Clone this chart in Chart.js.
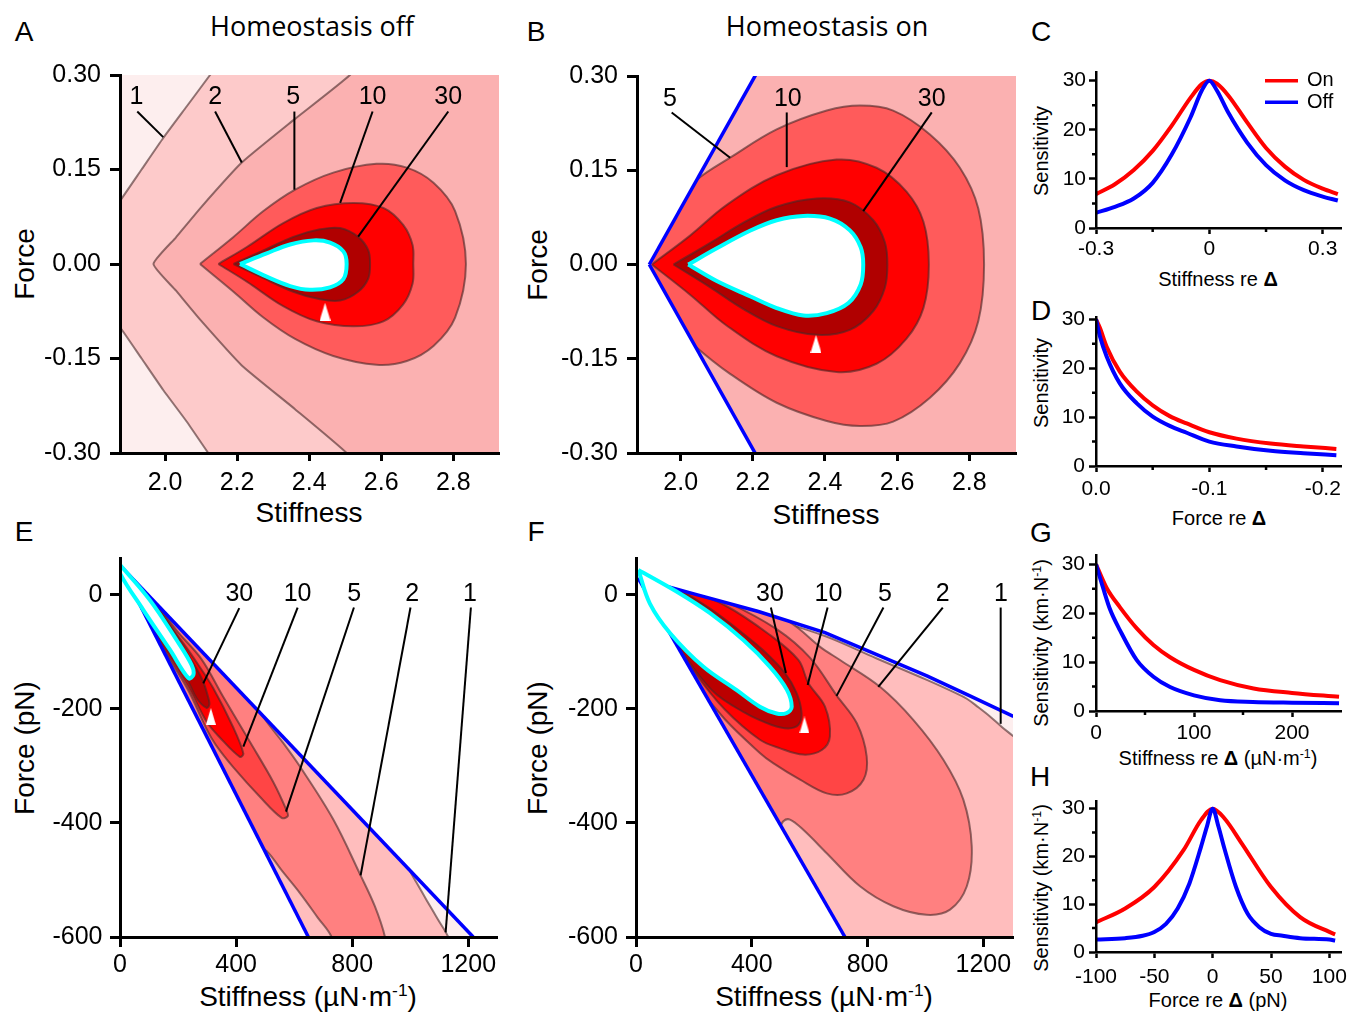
<!DOCTYPE html>
<html>
<head>
<meta charset="utf-8">
<title>Sensitivity maps</title>
<script src="https://cdn.jsdelivr.net/npm/chart.js@4.4.1/dist/chart.umd.min.js"></script>
<style>
  html, body { margin: 0; padding: 0; background: #fff; }
  body { position: relative; width: 1350px; height: 1013px; overflow: hidden; font-family: "Liberation Sans", Arial, sans-serif; color: #000; }
  canvas { position: absolute; }
  .t { position: absolute; transform: translate(-50%, -50%); white-space: nowrap; line-height: 1; }
  .r { transform: translate(-50%, -50%) rotate(-90deg); }
  .letter { font-size: 28px; }
  .head { font-family: "Open Sans", sans-serif; font-size: 27px; }
  .big { font-size: 28px; }
  .small { font-size: 20px; }
  sup { font-size: 0.62em; vertical-align: 0.55em; line-height: 0; }
</style>
</head>
<body>
<div class="t letter" style="left:24px;top:32px">A</div>
<div class="t letter" style="left:536px;top:32px">B</div>
<div class="t letter" style="left:1041px;top:32px">C</div>
<div class="t letter" style="left:1041px;top:311px">D</div>
<div class="t letter" style="left:24px;top:532px">E</div>
<div class="t letter" style="left:536px;top:532px">F</div>
<div class="t letter" style="left:1041px;top:533px">G</div>
<div class="t letter" style="left:1040px;top:777px">H</div>

<div class="t head" style="left:312px;top:25px">Homeostasis off</div>
<div class="t head" style="left:827px;top:25px">Homeostasis on</div>

<div class="t r big" style="left:25px;top:264px">Force</div>
<div class="t big" style="left:309px;top:513px">Stiffness</div>
<div class="t r big" style="left:538px;top:265px">Force</div>
<div class="t big" style="left:826px;top:515px">Stiffness</div>
<div class="t r big" style="left:25px;top:748px">Force (pN)</div>
<div class="t big" style="left:308px;top:997px">Stiffness (µN·m<sup>-1</sup>)</div>
<div class="t r big" style="left:538px;top:748px">Force (pN)</div>
<div class="t big" style="left:824px;top:997px">Stiffness (µN·m<sup>-1</sup>)</div>

<div class="t r small" style="left:1041px;top:151px">Sensitivity</div>
<div class="t small" style="left:1218px;top:279px">Stiffness re <b>Δ</b></div>
<div class="t r small" style="left:1041px;top:383px">Sensitivity</div>
<div class="t small" style="left:1219px;top:518px">Force re <b>Δ</b></div>
<div class="t r small" style="left:1041px;top:643px">Sensitivity (km·N<sup>-1</sup>)</div>
<div class="t small" style="left:1218px;top:758px">Stiffness re <b>Δ</b> (µN·m<sup>-1</sup>)</div>
<div class="t r small" style="left:1041px;top:888px">Sensitivity (km·N<sup>-1</sup>)</div>
<div class="t small" style="left:1218px;top:1000px">Force re <b>Δ</b> (pN)</div>

<canvas id="chartA"></canvas>
<canvas id="chartB"></canvas>
<canvas id="chartC"></canvas>
<canvas id="chartD"></canvas>
<canvas id="chartE"></canvas>
<canvas id="chartF"></canvas>
<canvas id="chartG"></canvas>
<canvas id="chartH"></canvas>

<script>
const FONT = '"Liberation Sans", Arial, sans-serif';
const EDGE = 'rgba(70, 40, 40, 0.6)';
const RED = '#ff0000';
const BLUE = '#0000ff';
const CYAN = '#00ffff';

// ---------- A / B : normalised stiffness and force ----------
const abStiffTicks = [2.0, 2.2, 2.4, 2.6, 2.8];
const abStiffLabels = ['2.0', '2.2', '2.4', '2.6', '2.8'];
const abForceTicks = [0.3, 0.15, 0, -0.15, -0.3];
const abForceLabels = ['0.30', '0.15', '0.00', '-0.15', '-0.30'];

// A: sensitivity contours, homeostasis off
const aLevel1 = [[2.19, 0.35], [2.125, 0.30], [2.06, 0.25], [1.995, 0.20], [1.935, 0.15], [1.875, 0.10], [1.81, 0.05], [1.77, 0],
  [1.81, -0.05], [1.875, -0.10], [1.935, -0.15], [1.995, -0.20], [2.06, -0.25], [2.12, -0.30], [2.185, -0.35], [3.1, -0.35], [3.1, 0.35]];
const aLevel2 = [[2.58, 0.35], [2.513, 0.30], [2.36, 0.23], [2.213, 0.161], [2.10, 0.09], [2.03, 0.042], [1.968, 0],
  [2.03, -0.042], [2.10, -0.09], [2.213, -0.161], [2.36, -0.23], [2.504, -0.30], [2.57, -0.35], [3.1, -0.35], [3.1, 0.35]];
const aLevel5 = [[2.097, 0], [2.19, 0.043], [2.273, 0.084], [2.361, 0.118], [2.467, 0.145], [2.587, 0.159], [2.671, 0.153],
  [2.745, 0.129], [2.805, 0.084], [2.835, 0], [2.805, -0.085], [2.745, -0.130], [2.671, -0.154], [2.587, -0.160],
  [2.467, -0.146], [2.361, -0.119], [2.273, -0.085], [2.19, -0.044], [2.097, 0]];
const aLevel10 = [[2.148, 0], [2.227, 0.027], [2.328, 0.065], [2.421, 0.089], [2.523, 0.097], [2.606, 0.089], [2.661, 0.062],
  [2.687, 0.030], [2.689, 0], [2.687, -0.031], [2.661, -0.064], [2.606, -0.091], [2.523, -0.099], [2.421, -0.091],
  [2.328, -0.067], [2.227, -0.028], [2.148, 0]];
const aLevel30 = [[2.190, 0], [2.264, 0.019], [2.356, 0.043], [2.430, 0.055], [2.486, 0.057], [2.536, 0.043], [2.564, 0.022],
  [2.569, 0], [2.564, -0.023], [2.536, -0.044], [2.486, -0.058], [2.430, -0.056], [2.356, -0.044], [2.264, -0.020], [2.190, 0]];
const aPeak = [[2.208, 0], [2.282, 0.017], [2.347, 0.031], [2.412, 0.0375], [2.458, 0.034], [2.495, 0.020], [2.504, 0],
  [2.495, -0.024], [2.458, -0.037], [2.402, -0.041], [2.347, -0.035], [2.282, -0.020], [2.208, 0]];
const aMark = [2.444, -0.0758];
const aLevelNames = ['1', '2', '5', '10', '30'];
const aNameAt = [[1.921, 0.265], [2.139, 0.265], [2.356, 0.265], [2.576, 0.265], [2.786, 0.265]];
const aLeaderTop = [[1.923, 0.242], [2.139, 0.242], [2.359, 0.242], [2.576, 0.242], [2.786, 0.242]];
const aLeaderEnd = [[1.995, 0.2014], [2.213, 0.161], [2.359, 0.118], [2.486, 0.097], [2.536, 0.0434]];

// B: sensitivity contours, homeostasis on
const bBlueUpper = [[1.913, 0], [2.255, 0.35]];
const bBlueLower = [[1.913, 0], [2.255, -0.35]];
const bLevel5 = [[1.85, 0], [1.95, 0.08], [2.045, 0.135], [2.137, 0.170], [2.266, 0.215], [2.405, 0.245], [2.497, 0.253],
  [2.589, 0.245], [2.691, 0.207], [2.774, 0.154], [2.825, 0.089], [2.841, 0], [2.825, -0.090], [2.774, -0.157],
  [2.691, -0.212], [2.589, -0.250], [2.497, -0.257], [2.405, -0.249], [2.266, -0.220], [2.137, -0.174], [2.040, -0.130],
  [1.95, -0.08], [1.85, 0]];
const bLevel10 = [[1.920, 0], [2.026, 0.046], [2.127, 0.0945], [2.266, 0.142], [2.432, 0.167], [2.543, 0.154], [2.626, 0.116],
  [2.673, 0.068], [2.688, 0], [2.673, -0.069], [2.626, -0.118], [2.543, -0.158], [2.432, -0.171], [2.266, -0.146],
  [2.127, -0.097], [2.026, -0.048], [1.920, 0]];
const bLevel30 = [[1.980, 0], [2.081, 0.034], [2.174, 0.0666], [2.266, 0.0919], [2.377, 0.105], [2.469, 0.0988], [2.534, 0.0704],
  [2.566, 0.0355], [2.573, 0], [2.566, -0.037], [2.534, -0.074], [2.469, -0.104], [2.377, -0.112], [2.266, -0.098],
  [2.174, -0.071], [2.081, -0.036], [1.980, 0]];
const bPeak = [[2.021, 0], [2.100, 0.0258], [2.192, 0.0537], [2.266, 0.0704], [2.340, 0.0773], [2.414, 0.0730], [2.469, 0.0543],
  [2.499, 0.0274], [2.506, 0], [2.499, -0.0317], [2.465, -0.0612], [2.405, -0.0773], [2.340, -0.0811], [2.266, -0.0693],
  [2.192, -0.0505], [2.100, -0.0263], [2.021, 0]];
const bMark = [2.375, -0.1265];
const bLevelNames = ['5', '10', '30'];
const bNameAt = [[1.970, 0.264], [2.297, 0.264], [2.696, 0.264]];
const bLeaderTop = [[1.975, 0.242], [2.294, 0.242], [2.696, 0.242]];
const bLeaderEnd = [[2.137, 0.170], [2.294, 0.155], [2.506, 0.085]];

// ---------- E / F : stiffness (µN/m) and force (pN) ----------
const efStiffTicks = [0, 400, 800, 1200];
const efStiffLabels = ['0', '400', '800', '1200'];
const efForceTicks = [0, -200, -400, -600];
const efForceLabels = ['0', '-200', '-400', '-600'];

// E: homeostasis off
const eBlueUpper = [[0, 52], [1217, -600]];
const eBlueLower = [[0, 52], [649, -600]];
const eLevel1 = [[990, -470], [999, -484], [1028, -510], [1056, -535], [1094, -568], [1131, -600], [1140, -620], [1300, -620]];
const eLevel2 = [[0, 70], [250, -70], [450, -180], [505, -222], [560, -258], [620, -301], [735, -394], [829, -492], [878, -546],
  [913, -600], [922, -640], [740, -640], [729, -600], [680, -565], [620, -523], [560, -485], [505, -449], [470, -440],
  [300, -330], [100, -100], [-30, 30]];
const eLevel5 = [[0, 62], [103, 2], [195, -62], [280, -112], [355, -178], [448, -258], [528, -328], [574, -378], [578, -388],
  [557, -391], [482, -354], [390, -302], [330, -263], [299, -236], [236, -168], [172, -114], [80, -40], [0, 42]];
const eLevel10 = [[0, 60], [103, -1], [195, -68], [260, -115], [321, -163], [390, -232], [425, -278], [413, -284], [344, -250],
  [298, -222], [236, -161], [172, -109], [80, -37], [0, 44]];
const eLevel30 = [[0, 58], [103, -4], [195, -72], [247, -115], [285, -150], [303, -178], [308, -192], [298, -198], [265, -182],
  [236, -153], [172, -103], [80, -33], [0, 46]];
const ePeak = [[0, 53], [103, -9], [195, -79], [247, -123], [253, -140], [236, -146], [172, -96], [80, -26], [0, 38], [0, 53]];
const eMark = [313, -213];
const eLevelNames = ['30', '10', '5', '2', '1'];
const eNameAt = [[411, 2], [612, 2], [807, 2], [1007, 2], [1206, 2]];
const eLeaderTop = [[411, -23], [612, -22], [806, -22], [1001, -22], [1209, -22]];
const eLeaderEnd = [[287, -155], [425, -266], [572, -380], [829, -492], [1122, -592]];

// F: homeostasis on
const fBlueUpper = [[8, 29], [200, 2], [423, -29], [653, -66], [830, -104], [1005, -142], [1150, -176], [1304, -213], [1350, -224]];
const fBlueLower = [[8, 29], [722, -600]];
const fLevel1 = [[200, 8], [400, -30], [653, -72], [830, -111], [1005, -149], [1100, -171], [1143, -182], [1183, -197],
  [1223, -213], [1263, -231], [1304, -248], [1350, -268], [1350, -150]];
const fLevel2 = [[0, 80], [300, 25], [480, -30], [560, -58], [636, -91], [705, -114], [843, -161], [958, -219], [1062, -289],
  [1131, -359], [1160, -441], [1143, -511], [1085, -552], [1004, -561], [889, -546], [774, -511], [659, -453], [578, -412],
  [532, -394], [509, -397], [480, -420], [300, -320], [-50, 0]];
const fLevel5 = [[8, 50], [140, 22], [313, -12], [486, -60], [601, -110], [693, -176], [763, -225], [797, -283], [786, -324],
  [728, -348], [659, -348], [567, -324], [474, -295], [428, -277], [307, -218], [200, -150], [100, -68], [8, 30]];
const fLevel10 = [[8, 47], [135, 19], [307, -18], [457, -68], [561, -114], [596, -155], [653, -196], [670, -248], [642, -272],
  [578, -280], [498, -269], [428, -254], [307, -201], [200, -134], [100, -57], [8, 36]];
const fLevel30 = [[8, 46], [135, 14], [256, -24], [371, -68], [446, -100], [515, -137], [555, -172], [572, -207], [561, -228],
  [526, -234], [469, -228], [377, -207], [262, -167], [146, -90], [60, -22], [8, 38]];
const fPeak = [[8, 44], [140, 6], [256, -32], [371, -79], [463, -126], [521, -166], [538, -196], [521, -207], [486, -208],
  [428, -196], [348, -167], [233, -126], [118, -67], [48, -15], [8, 44]];
const fMark = [582, -228];
const fLevelNames = ['30', '10', '5', '2', '1'];
const fNameAt = [[463, 2], [665, 2], [860, 2], [1060, 2], [1261, 2]];
const fLeaderTop = [[466, -22], [662, -22], [855, -22], [1060, -22], [1260, -22]];
const fLeaderEnd = [[518, -137], [593, -158], [693, -177], [837, -161], [1260, -226]];

// ---------- C / D / G / H : cuts through the peak ----------
const sensTicks = [0, 10, 20, 30];
const sensLabels = ['0', '10', '20', '30'];
const sensMinor = [5, 15, 25];

const cStiff = [-0.3, -0.25, -0.2, -0.15, -0.1, -0.05, -0.02, 0, 0.02, 0.05, 0.1, 0.15, 0.2, 0.25, 0.3, 0.34];
const cOn = [6.9, 8.9, 11.8, 15.7, 20.8, 26.5, 29.3, 30, 29.4, 27.0, 21.5, 16.3, 12.5, 9.8, 8.0, 6.9];
const cOff = [3.1, 4.3, 6.0, 9.2, 14.9, 22.5, 28.0, 30, 28.0, 23.5, 17.4, 12.8, 9.7, 7.7, 6.4, 5.6];
const cTicks = [-0.3, 0, 0.3];
const cLabels = ['-0.3', '0', '0.3'];

const dForce = [0, -0.0035, -0.0094, -0.021, -0.036, -0.05, -0.065, -0.08, -0.1, -0.124, -0.154, -0.183, -0.212];
const dOn = [30, 28.2, 24.4, 19.3, 15.2, 12.4, 10.2, 8.7, 6.9, 5.6, 4.6, 4.0, 3.5];
const dOff = [30, 26.5, 22.4, 16.9, 12.8, 10.1, 8.2, 6.8, 5.0, 4.0, 3.1, 2.6, 2.2];
const dTicks = [0, -0.1, -0.2];
const dLabels = ['0.0', '-0.1', '-0.2'];

const gStiffOn = [0, 11, 24.5, 41.6, 58.6, 75.6, 100, 126.7, 160.8, 200, 248];
const gOn = [30, 25.1, 21.2, 16.9, 13.5, 11.0, 8.4, 6.3, 4.6, 3.7, 2.9];
const gStiffOff = [0, 7.5, 14.3, 24.5, 41.6, 58.6, 75.6, 100, 126.7, 160, 200, 248];
const gOff = [30, 25.0, 20.8, 16.5, 10.4, 7.0, 4.9, 3.2, 2.2, 1.85, 1.7, 1.6];
const gTicks = [0, 100, 200];
const gLabels = ['0', '100', '200'];

const hForceOn = [-100, -75, -50, -25, -10, 0, 10, 25, 50, 75, 100, 105];
const hOn = [6.2, 9.1, 13.6, 21.3, 27.6, 30, 28.0, 22.7, 13.6, 7.3, 4.2, 3.7];
const hForceOff = [-100, -75, -60, -50, -40, -30, -20, -10, -5, 0, 5, 10, 20, 30, 40, 50, 60, 75, 100, 105];
const hOff = [2.6, 2.9, 3.4, 4.2, 5.9, 9.1, 14.3, 22.0, 26.2, 30, 26.2, 21.7, 13.6, 8.0, 5.2, 3.8, 3.4, 2.9, 2.6, 2.4];
const hTicks = [-100, -50, 0, 50, 100];
const hLabels = ['-100', '-50', '0', '50', '100'];

Chart.defaults.font.family = FONT;
Chart.defaults.elements.line.capBezierPoints = false;

function xy(pairs) { return pairs.map(([x, y]) => ({x, y})); }
function zip(xs, ys) { return xs.map((x, i) => ({x, y: ys[i]})); }

// closed outline, filled with its own colour underneath the edge
function region(pairs, color, extra) {
  return Object.assign({data: xy(pairs), showLine: true, pointRadius: 0, borderColor: EDGE, borderWidth: 2,
    tension: 0.35, clip: 0, areaFill: color}, extra || {});
}
function blank(pairs) { return region(pairs, '#fff', {borderColor: 'rgba(0,0,0,0)', borderWidth: 1, tension: 0}); }
function peak(pairs) { return region(pairs, '#fff', {borderColor: CYAN, borderWidth: 4}); }
function boundary(pairs) {
  return {data: xy(pairs), showLine: true, pointRadius: 0, borderColor: BLUE, borderWidth: 3.5, tension: 0, clip: 0, borderCapStyle: 'butt'};
}
function curve(xs, ys, color, label) {
  return {label, data: zip(xs, ys), showLine: true, pointRadius: 0, borderColor: color, borderWidth: 4, cubicInterpolationMode: 'monotone'};
}
function triangle(w, h) {
  const c = document.createElement('canvas');
  c.width = w; c.height = h;
  const g = c.getContext('2d');
  g.fillStyle = '#fff';
  g.beginPath(); g.moveTo(w / 2, 0); g.lineTo(w, h); g.lineTo(0, h); g.closePath(); g.fill();
  return c;
}
function marker(p, w, h) {
  return {data: [{x: p[0], y: p[1]}], pointStyle: triangle(w, h), pointRadius: 5, showLine: false, clip: false};
}

// plot background + polygon fills
function paintArea(bg) {
  return {
    id: 'paintArea',
    beforeDraw(chart) {
      if (!bg) return;
      const {ctx, chartArea: a} = chart;
      ctx.save();
      ctx.fillStyle = bg;
      ctx.fillRect(a.left, a.top, a.width, a.height);
      ctx.restore();
    },
    beforeDatasetDraw(chart, args) {
      const line = args.meta.dataset;
      if (!line) return;
      const a = chart.chartArea;
      line.updateControlPoints(a, 'x');
      const ds = chart.data.datasets[args.index];
      if (!ds.areaFill) return;
      const ctx = chart.ctx;
      ctx.save();
      ctx.beginPath();
      ctx.rect(a.left, a.top, a.width, a.height);
      ctx.clip();
      ctx.beginPath();
      line.path(ctx);
      ctx.closePath();
      ctx.fillStyle = ds.areaFill;
      ctx.fill();
      ctx.restore();
    }
  };
}

// contour level numbers with leader lines
function leaders(names, at, top, end) {
  return {
    id: 'leaders',
    afterDatasetsDraw(chart) {
      const {ctx, scales: {x, y}} = chart;
      ctx.save();
      ctx.strokeStyle = '#000';
      ctx.lineWidth = 2;
      ctx.fillStyle = '#000';
      ctx.font = '25px ' + FONT;
      ctx.textAlign = 'center';
      ctx.textBaseline = 'middle';
      names.forEach((n, i) => {
        ctx.beginPath();
        ctx.moveTo(x.getPixelForValue(top[i][0]), y.getPixelForValue(top[i][1]));
        ctx.lineTo(x.getPixelForValue(end[i][0]), y.getPixelForValue(end[i][1]));
        ctx.stroke();
        ctx.fillText(n, x.getPixelForValue(at[i][0]), y.getPixelForValue(at[i][1]));
      });
      ctx.restore();
    }
  };
}

function minorTicks(xs, ys, len) {
  return {
    id: 'minorTicks',
    afterDraw(chart) {
      const {ctx, chartArea: a, scales: {x, y}} = chart;
      ctx.save();
      ctx.strokeStyle = '#000';
      ctx.lineWidth = 2.5;
      ctx.beginPath();
      xs.forEach(v => { const p = x.getPixelForValue(v); ctx.moveTo(p, a.bottom); ctx.lineTo(p, a.bottom + len); });
      ys.forEach(v => { const p = y.getPixelForValue(v); ctx.moveTo(a.left, p); ctx.lineTo(a.left - len, p); });
      ctx.stroke();
      ctx.restore();
    }
  };
}

function cornerLegend() {
  return {
    id: 'cornerLegend',
    afterDatasetsDraw(chart) {
      const {ctx, chartArea: a} = chart;
      ctx.save();
      ctx.font = '20px ' + FONT;
      ctx.textAlign = 'left';
      ctx.textBaseline = 'middle';
      ctx.fillStyle = '#000';
      chart.data.datasets.forEach((d, i) => {
        const yy = a.top + 8.7 + i * 21.6;
        ctx.strokeStyle = d.borderColor;
        ctx.lineWidth = 3.5;
        ctx.beginPath();
        ctx.moveTo(a.right - 76, yy);
        ctx.lineTo(a.right - 43, yy);
        ctx.stroke();
        ctx.fillText(d.label, a.right - 34, yy);
      });
      ctx.restore();
    }
  };
}

function axis(a, size, horizontal) {
  return {
    type: 'linear', min: a.min, max: a.max, reverse: !!a.reverse,
    afterBuildTicks: s => { s.ticks = a.ticks.map(v => ({value: v})); },
    afterFit: s => { if (horizontal) s.height = size; else s.width = size; },
    border: {display: true, color: '#000', width: a.lw, z: 1},
    grid: {display: true, drawOnChartArea: false, drawTicks: true, tickLength: a.len, tickWidth: a.lw, tickColor: '#000'},
    ticks: {color: '#000', padding: a.pad, autoSkip: false, maxRotation: 0, font: {family: FONT, size: a.size},
      callback: (v, i) => a.labels[i]}
  };
}

function panel(id, box, pad, spec) {
  const cv = document.getElementById(id);
  cv.width = box.r - box.l + pad.l + pad.r;
  cv.height = box.b - box.t + pad.t + pad.b;
  cv.style.left = (box.l - pad.l) + 'px';
  cv.style.top = (box.t - pad.t) + 'px';
  const ds = spec.datasets;
  ds.forEach((d, i) => { d.order = ds.length - i; });
  return new Chart(cv, {
    type: 'scatter',
    data: {datasets: ds},
    plugins: [paintArea(spec.background)].concat(spec.plugins || []),
    options: {
      responsive: false,
      animation: false,
      events: [],
      layout: {padding: {top: pad.t, right: pad.r, left: 0, bottom: 0}},
      plugins: {legend: {display: false}, tooltip: {enabled: false}},
      scales: {x: axis(spec.x, pad.b, true), y: axis(spec.y, pad.l, false)}
    }
  });
}

const bigPad = {l: 80, r: 16, t: 28, b: 45};
const smallPad = {l: 50, r: 18, t: 22, b: 40};

// A
panel('chartA', {l: 120, r: 499, t: 75, b: 453}, bigPad, {
  background: '#fdeeee',
  x: {min: 1.8751, max: 2.9268, ticks: abStiffTicks, labels: abStiffLabels, len: 8, pad: 7.4, size: 25, lw: 3},
  y: {min: -0.3, max: 0.3, ticks: abForceTicks, labels: abForceLabels, len: 10, pad: 9, size: 25, lw: 3},
  datasets: [
    region(aLevel1, '#fdcaca', {tension: 0.15}),
    region(aLevel2, '#fbb1b1', {tension: 0.15}),
    region(aLevel5, '#ff5b5b'),
    region(aLevel10, RED),
    region(aLevel30, '#b00000'),
    peak(aPeak),
    marker(aMark, 11, 18)
  ],
  plugins: [leaders(aLevelNames, aNameAt, aLeaderTop, aLeaderEnd)]
});

// B
panel('chartB', {l: 637, r: 1016, t: 76, b: 453}, bigPad, {
  background: '#fbb1b1',
  x: {min: 1.8789, max: 2.9295, ticks: abStiffTicks, labels: abStiffLabels, len: 8, pad: 7.4, size: 25, lw: 3},
  y: {min: -0.3, max: 0.3, ticks: abForceTicks, labels: abForceLabels, len: 10, pad: 9, size: 25, lw: 3},
  datasets: [
    region(bLevel5, '#ff5b5b'),
    region(bLevel10, RED),
    region(bLevel30, '#b00000'),
    peak(bPeak),
    blank([...bBlueUpper.slice().reverse(), ...bBlueLower.slice(1), [1.7, -0.35], [1.7, 0.35]]),
    boundary(bBlueUpper),
    boundary(bBlueLower),
    marker(bMark, 11, 18)
  ],
  plugins: [leaders(bLevelNames, bNameAt, bLeaderTop, bLeaderEnd)]
});

// E
panel('chartE', {l: 120, r: 497, t: 558, b: 937}, bigPad, {
  background: '#ffbdbd',
  x: {min: 0, max: 1299, ticks: efStiffTicks, labels: efStiffLabels, len: 10, pad: 3, size: 25, lw: 3},
  y: {min: -600, max: 64.9, ticks: efForceTicks, labels: efForceLabels, len: 10, pad: 7.5, size: 25, lw: 3},
  datasets: [
    region(eLevel1, '#fdeeee'),
    region(eLevel2, '#ff8080'),
    region(eLevel5, '#ff4545'),
    region(eLevel10, RED),
    region(eLevel30, '#bb0000'),
    blank([...eBlueUpper, [1400, -700], [1400, 120], [-100, 120], [-100, 52]]),
    blank([...eBlueLower, [600, -700], [-100, -700], [-100, 52]]),
    boundary(eBlueUpper),
    boundary(eBlueLower),
    peak(ePeak),
    marker(eMark, 10, 17)
  ],
  plugins: [leaders(eLevelNames, eNameAt, eLeaderTop, eLeaderEnd)]
});

// F
panel('chartF', {l: 636, r: 1013, t: 558, b: 937}, bigPad, {
  background: '#ffbdbd',
  x: {min: 0, max: 1302.6, ticks: efStiffTicks, labels: efStiffLabels, len: 10, pad: 3, size: 25, lw: 3},
  y: {min: -600, max: 64.9, ticks: efForceTicks, labels: efForceLabels, len: 10, pad: 8, size: 25, lw: 3},
  datasets: [
    region(fLevel1, '#fdeeee'),
    region(fLevel2, '#ff8080'),
    region(fLevel5, '#ff4545'),
    region(fLevel10, RED),
    region(fLevel30, '#bb0000'),
    blank([...fBlueUpper, [1400, -224], [1400, 120], [-100, 120], [-100, 29]]),
    blank([...fBlueLower, [700, -700], [-100, -700], [-100, 29]]),
    boundary(fBlueUpper),
    boundary(fBlueLower),
    peak(fPeak),
    marker(fMark, 10, 17)
  ],
  plugins: [leaders(fLevelNames, fNameAt, fLeaderTop, fLeaderEnd)]
});

// C
panel('chartC', {l: 1096, r: 1341, t: 72, b: 228}, smallPad, {
  x: {min: -0.3, max: 0.3484, ticks: cTicks, labels: cLabels, len: 6, pad: 2.7, size: 21, lw: 2.5},
  y: {min: 0, max: 31.77, ticks: sensTicks, labels: sensLabels, len: 7, pad: 3, size: 21, lw: 2.5},
  datasets: [curve(cStiff, cOn, RED, 'On'), curve(cStiff, cOff, BLUE, 'Off')],
  plugins: [minorTicks([-0.15, 0.15], sensMinor, 4), cornerLegend()]
});

// D
panel('chartD', {l: 1096, r: 1341, t: 317, b: 466}, smallPad, {
  x: {min: -0.2161, max: 0, reverse: true, ticks: dTicks, labels: dLabels, len: 6, pad: 4.7, size: 21, lw: 2.5},
  y: {min: 0, max: 30.47, ticks: sensTicks, labels: sensLabels, len: 7, pad: 4, size: 21, lw: 2.5},
  datasets: [curve(dForce, dOn, RED, 'On'), curve(dForce, dOff, BLUE, 'Off')],
  plugins: [minorTicks([-0.05, -0.15], sensMinor, 4)]
});

// G
panel('chartG', {l: 1096, r: 1341, t: 555, b: 711}, smallPad, {
  x: {min: 0, max: 250, ticks: gTicks, labels: gLabels, len: 6, pad: 3.7, size: 21, lw: 2.5},
  y: {min: 0, max: 31.9, ticks: sensTicks, labels: sensLabels, len: 7, pad: 4, size: 21, lw: 2.5},
  datasets: [curve(gStiffOn, gOn, RED, 'On'), curve(gStiffOff, gOff, BLUE, 'Off')],
  plugins: [minorTicks([50, 150], sensMinor, 4)]
});

// H
panel('chartH', {l: 1096, r: 1341, t: 801, b: 952}, smallPad, {
  x: {min: -100, max: 110, ticks: hTicks, labels: hLabels, len: 6, pad: 6.7, size: 21, lw: 2.5},
  y: {min: 0, max: 31.6, ticks: sensTicks, labels: sensLabels, len: 7, pad: 4, size: 21, lw: 2.5},
  datasets: [curve(hForceOn, hOn, RED, 'On'), curve(hForceOff, hOff, BLUE, 'Off')],
  plugins: [minorTicks([], sensMinor, 4)]
});
</script>
</body>
</html>
